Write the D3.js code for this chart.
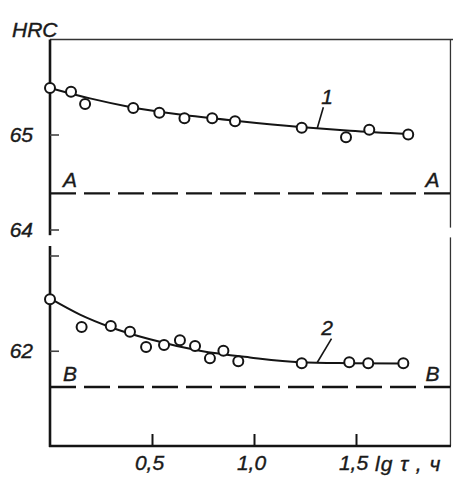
<!DOCTYPE html>
<html>
<head>
<meta charset="utf-8">
<script src="https://cdn.jsdelivr.net/npm/d3@7"></script>
<style>
  body { margin: 0; background: #fff; }
  text { font-family: "Liberation Sans", Arial, sans-serif; font-style: italic; fill: #1a1a1a; stroke: #1a1a1a; stroke-width: 0.4; }
</style>
</head>
<body>
<svg id="chart" width="453" height="477"></svg>
<script>
// x: lg tau, hours
const xTicks = [0.5, 1.0, 1.5];
const xTickLabels = ["0,5", "1,0", "1,5"];

// broken HRC axis: upper part and lower part
const upperTicks = [64, 65];
const upperTickLabels = ["64", "65"];
const lowerTicks = [62, 63];
const lowerTickLabels = ["62", ""];

// curve 1 (upper)
const lgT1 = [0, 0.103, 0.172, 0.408, 0.536, 0.659, 0.795, 0.907, 1.234, 1.451, 1.565, 1.756];
const hrc1 = [65.49, 65.45, 65.32, 65.28, 65.23, 65.17, 65.17, 65.14, 65.07, 64.97, 65.05, 65.0];
const fitX1 = [0, 0.196, 0.392, 0.637, 0.931, 1.225, 1.471, 1.755];
const fitY1 = [65.49, 65.38, 65.29, 65.21, 65.14, 65.08, 65.04, 65.005];

// curve 2 (lower)
const lgT2 = [0, 0.155, 0.298, 0.392, 0.471, 0.559, 0.637, 0.711, 0.784, 0.850, 0.923, 1.234, 1.467, 1.560, 1.732];
const hrc2 = [62.54, 62.25, 62.26, 62.20, 62.04, 62.06, 62.11, 62.05, 61.92, 62.00, 61.89, 61.87, 61.88, 61.87, 61.87];
const fitX2 = [0, 0.147, 0.294, 0.49, 0.735, 0.98, 1.225, 1.47, 1.73];
const fitY2 = [62.55, 62.38, 62.25, 62.12, 62.0, 61.93, 61.88, 61.87, 61.865];

// reference levels
const levelA = 64.38;
const levelB = 61.62;

const svg = d3.select("#chart");
const ink = "#141414";

const x = d3.scaleLinear().domain([0, 1]).range([50, 254]);
const xMax = 1.963;
const yU = d3.scaleLinear().domain([64, 66]).range([229.5, 39.5]);
const yL = d3.scaleLinear().domain([61, 63]).range([446, 255.5]);

// frame: thin top and right, heavy left and bottom
svg.append("line")
  .attr("x1", x(0)).attr("x2", 453)
  .attr("y1", yU(66)).attr("y2", yU(66))
  .attr("stroke", "#333").attr("stroke-width", 1.3);
svg.append("line")
  .attr("x1", x(xMax)).attr("x2", x(xMax))
  .attr("y1", yU(66)).attr("y2", yU(64.02))
  .attr("stroke", "#333").attr("stroke-width", 1.3);
svg.append("line")
  .attr("x1", x(xMax)).attr("x2", x(xMax))
  .attr("y1", yL(63.19)).attr("y2", yL(61))
  .attr("stroke", "#333").attr("stroke-width", 1.3);

svg.append("line")
  .attr("x1", x(0)).attr("x2", x(0))
  .attr("y1", yU(66)).attr("y2", yU(63.94))
  .attr("stroke", ink).attr("stroke-width", 2.6);
svg.append("line")
  .attr("x1", x(0)).attr("x2", x(0))
  .attr("y1", yL(63.1)).attr("y2", yL(61) + 1)
  .attr("stroke", ink).attr("stroke-width", 2.6);
svg.append("line")
  .attr("x1", x(0) - 1).attr("x2", x(xMax) + 0.5)
  .attr("y1", yL(61)).attr("y2", yL(61))
  .attr("stroke", ink).attr("stroke-width", 2.4);

// x axis ticks (inward) and labels
const xAxis = svg.append("g")
  .attr("transform", `translate(0,${yL(61)})`)
  .call(d3.axisBottom(x)
    .tickValues(xTicks)
    .tickFormat((d, i) => xTickLabels[i])
    .tickSizeInner(-12)
    .tickSizeOuter(0)
    .tickPadding(9));
xAxis.select(".domain").remove();
xAxis.selectAll(".tick line").attr("stroke", ink).attr("stroke-width", 2);
xAxis.selectAll(".tick text")
  .attr("font-size", 21).attr("font-family", null).attr("fill", ink)
  .attr("dx", -3);

svg.append("text")
  .attr("x", x(1.5) + 19).attr("y", yL(61) + 25)
  .attr("font-size", 21)
  .attr("letter-spacing", 1)
  .text("lg τ , ч");

// y axes (ticks inward, labels to the left)
function yAxis(scale, ticks, labels) {
  const g = svg.append("g")
    .attr("transform", `translate(${x(0)},0)`)
    .call(d3.axisLeft(scale)
      .tickValues(ticks)
      .tickFormat((d, i) => labels[i])
      .tickSizeInner(-9)
      .tickSizeOuter(0)
      .tickPadding(17));
  g.select(".domain").remove();
  g.selectAll(".tick line").attr("stroke", "#444").attr("stroke-width", 1.6);
  g.selectAll(".tick text")
    .attr("font-size", 21).attr("font-family", null).attr("fill", ink);
}
yAxis(yU, upperTicks, upperTickLabels);
yAxis(yL, lowerTicks, lowerTickLabels);

svg.append("text")
  .attr("x", 12).attr("y", 37)
  .attr("font-size", 21)
  .text("HRC");

// dashed reference lines A and B
[[yU, levelA, "A"], [yL, levelB, "B"]].forEach(([scale, v, name]) => {
  svg.append("line")
    .attr("x1", x(0)).attr("x2", 453)
    .attr("y1", scale(v)).attr("y2", scale(v))
    .attr("stroke", ink).attr("stroke-width", 2.4)
    .attr("stroke-dasharray", "26 8");
  svg.append("text")
    .attr("x", x(0) + 13).attr("y", scale(v) - 6)
    .attr("font-size", 21)
    .text(name);
  svg.append("text")
    .attr("x", x(xMax) - 25).attr("y", scale(v) - 6)
    .attr("font-size", 21)
    .text(name);
});

// fitted curves and measured points
const series = [
  { scale: yU, fx: fitX1, fy: fitY1, px: lgT1, py: hrc1, label: "1", at: 1.31, lift: [0.03, 0.22] },
  { scale: yL, fx: fitX2, fy: fitY2, px: lgT2, py: hrc2, label: "2", at: 1.31, lift: [0.07, 0.25] }
];

series.forEach(s => {
  const pts = s.fx.map((v, i) => [v, s.fy[i]]);
  const line = d3.line()
    .x(d => x(d[0]))
    .y(d => s.scale(d[1]))
    .curve(d3.curveMonotoneX);
  svg.append("path")
    .attr("d", line(pts))
    .attr("fill", "none")
    .attr("stroke", ink)
    .attr("stroke-width", 2);

  svg.append("g").selectAll("circle")
    .data(s.px.map((v, i) => [v, s.py[i]]))
    .join("circle")
    .attr("cx", d => x(d[0]))
    .attr("cy", d => s.scale(d[1]))
    .attr("r", 5)
    .attr("fill", "#fff")
    .attr("stroke", ink)
    .attr("stroke-width", 2);

  // curve number with leader
  const yOnCurve = d3.scaleLinear().domain(s.fx).range(s.fy)(s.at);
  svg.append("line")
    .attr("x1", x(s.at)).attr("y1", s.scale(yOnCurve))
    .attr("x2", x(s.at + s.lift[0])).attr("y2", s.scale(yOnCurve + s.lift[1]))
    .attr("stroke", ink).attr("stroke-width", 1.6);
  svg.append("text")
    .attr("x", x(s.at + 0.02)).attr("y", s.scale(yOnCurve + s.lift[1] + 0.04))
    .attr("font-size", 21)
    .text(s.label);
});
</script>
</body>
</html>
